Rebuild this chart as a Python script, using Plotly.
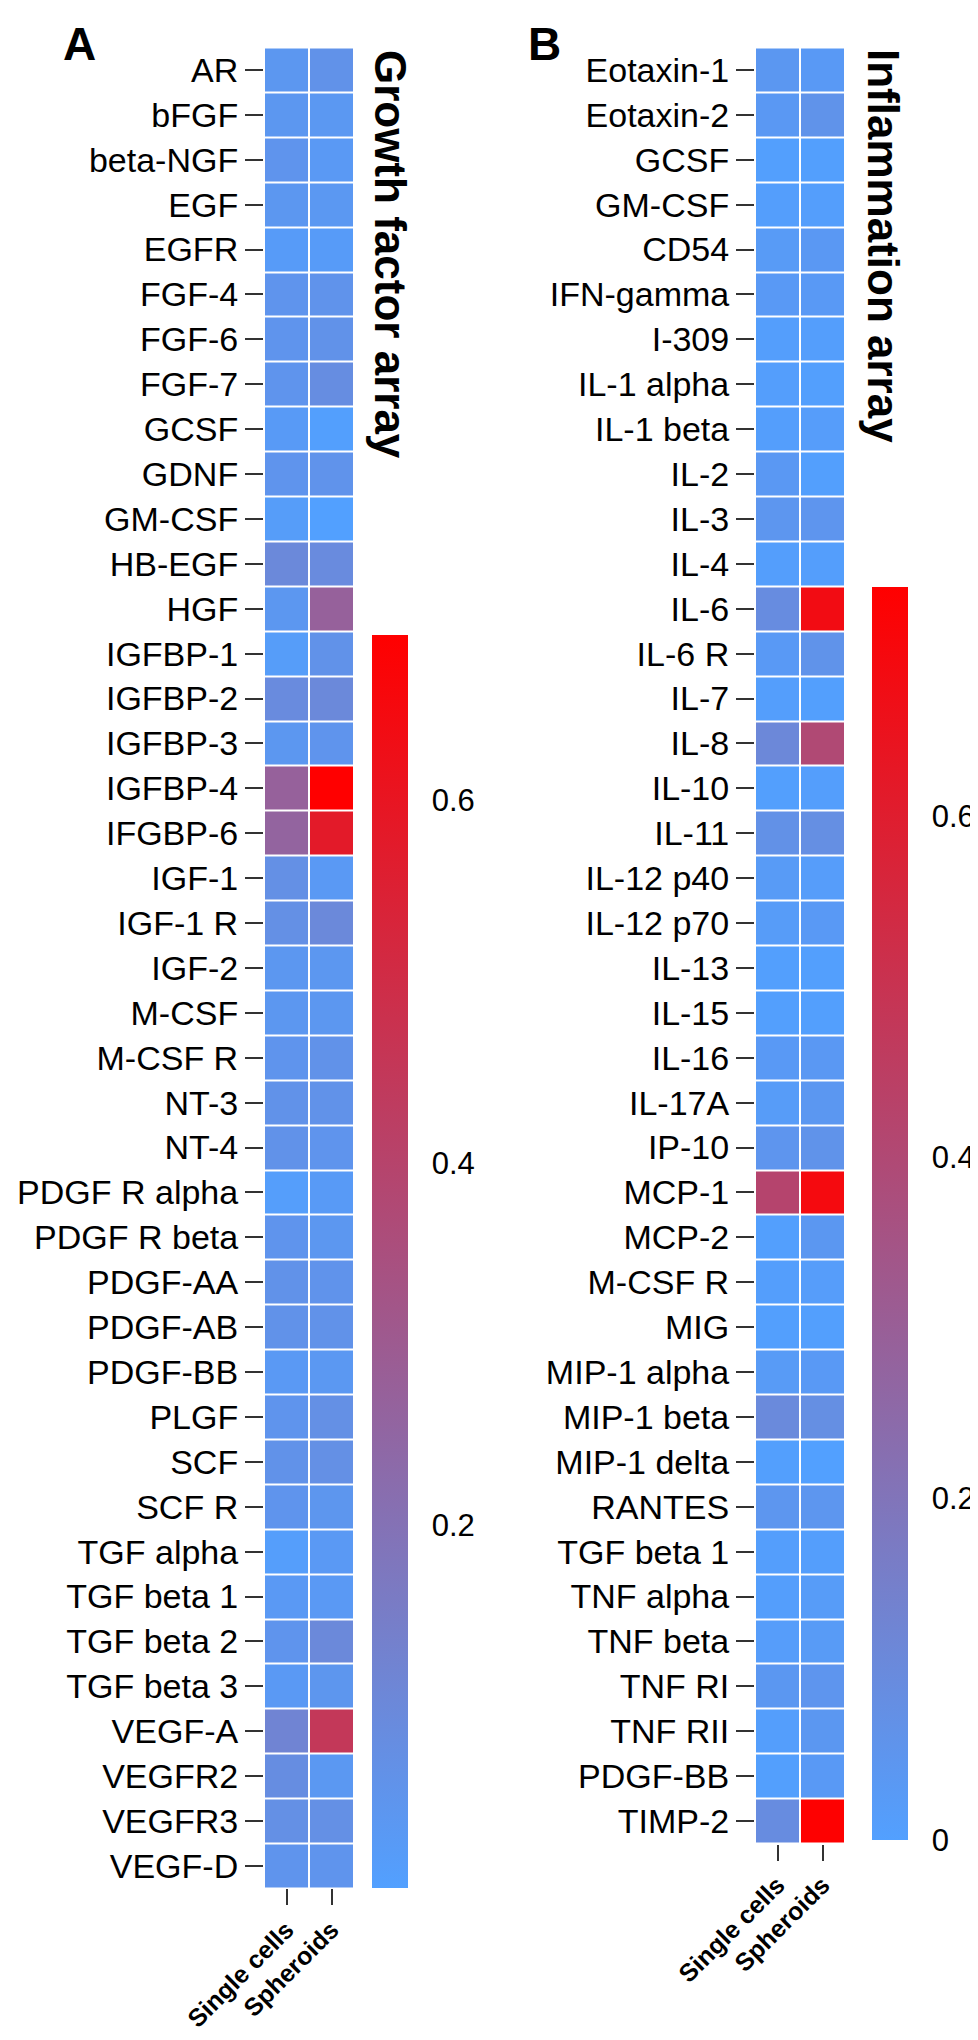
import plotly.graph_objects as go

# ---------------- data ----------------
conditions = ["Single cells", "Spheroids"]

growth_factors = ["AR", "bFGF", "beta-NGF", "EGF", "EGFR", "FGF-4", "FGF-6", "FGF-7", "GCSF", "GDNF",
                  "GM-CSF", "HB-EGF", "HGF", "IGFBP-1", "IGFBP-2", "IGFBP-3", "IGFBP-4", "IFGBP-6", "IGF-1",
                  "IGF-1 R", "IGF-2", "M-CSF", "M-CSF R", "NT-3", "NT-4", "PDGF R alpha", "PDGF R beta",
                  "PDGF-AA", "PDGF-AB", "PDGF-BB", "PLGF", "SCF", "SCF R", "TGF alpha", "TGF beta 1",
                  "TGF beta 2", "TGF beta 3", "VEGF-A", "VEGFR2", "VEGFR3", "VEGF-D"]
gf_single = [0.04, 0.04, 0.05, 0.04, 0.02, 0.05, 0.05, 0.05, 0.025, 0.05,
             0.015, 0.10, 0.04, 0.015, 0.09, 0.04, 0.27, 0.26, 0.07,
             0.07, 0.04, 0.04, 0.05, 0.06, 0.06, 0.01, 0.05,
             0.06, 0.06, 0.03, 0.05, 0.06, 0.05, 0.01, 0.03,
             0.05, 0.03, 0.12, 0.08, 0.07, 0.05]
gf_spheroid = [0.06, 0.035, 0.03, 0.035, 0.02, 0.055, 0.06, 0.08, 0.005, 0.055,
               0.0, 0.09, 0.27, 0.06, 0.10, 0.05, 0.69, 0.58, 0.03,
               0.10, 0.04, 0.04, 0.06, 0.06, 0.05, 0.025, 0.04,
               0.055, 0.06, 0.035, 0.07, 0.07, 0.045, 0.03, 0.03,
               0.10, 0.045, 0.45, 0.035, 0.07, 0.05]

inflammation = ["Eotaxin-1", "Eotaxin-2", "GCSF", "GM-CSF", "CD54", "IFN-gamma", "I-309", "IL-1 alpha",
                "IL-1 beta", "IL-2", "IL-3", "IL-4", "IL-6", "IL-6 R", "IL-7", "IL-8", "IL-10", "IL-11",
                "IL-12 p40", "IL-12 p70", "IL-13", "IL-15", "IL-16", "IL-17A", "IP-10", "MCP-1", "MCP-2",
                "M-CSF R", "MIG", "MIP-1 alpha", "MIP-1 beta", "MIP-1 delta", "RANTES", "TGF beta 1",
                "TNF alpha", "TNF beta", "TNF RI", "TNF RII", "PDGF-BB", "TIMP-2"]
inf_single = [0.04, 0.035, 0.005, 0.01, 0.025, 0.03, 0.01, 0.01,
              0.01, 0.035, 0.045, 0.01, 0.09, 0.03, 0.01, 0.11, 0.005, 0.07,
              0.025, 0.02, 0.005, 0.005, 0.03, 0.02, 0.05, 0.42, 0.005,
              0.01, 0.005, 0.025, 0.10, 0.005, 0.045, 0.01,
              0.01, 0.015, 0.04, 0.01, 0.005, 0.09]
inf_spheroid = [0.03, 0.06, 0.005, 0.01, 0.035, 0.03, 0.01, 0.005,
                0.015, 0.005, 0.05, 0.01, 0.68, 0.06, 0.005, 0.40, 0.01, 0.08,
                0.015, 0.03, 0.005, 0.005, 0.035, 0.04, 0.06, 0.69, 0.04,
                0.015, 0.005, 0.03, 0.08, 0.0, 0.045, 0.01,
                0.02, 0.025, 0.05, 0.04, 0.03, 0.73]

gf_range = [0.0, 0.691]
inf_range = [0.0, 0.734]
gf_ticks = [0.2, 0.4, 0.6]
inf_ticks = [0, 0.2, 0.4, 0.6]

# ---------------- layout constants (pixels) ----------------
W, H = 978, 2040
FONT = "Arial, 'Liberation Sans', sans-serif"
COLORSCALE = [[0.0, "rgb(82,160,255)"], [1.0, "rgb(255,0,0)"]]

ROW = 44.9
TOP = 39.5


def px_x(x):
    return x / W


def px_y(y):
    return 1 - y / H


a_bottom = TOP + ROW * len(growth_factors)
b_bottom = TOP + ROW * len(inflammation)

fig = go.Figure()

fig.add_trace(go.Heatmap(
    z=[[s, p] for s, p in zip(gf_single, gf_spheroid)],
    x=conditions, y=growth_factors,
    coloraxis="coloraxis", xgap=2, ygap=2,
    xaxis="x", yaxis="y",
))
fig.add_trace(go.Heatmap(
    z=[[s, p] for s, p in zip(inf_single, inf_spheroid)],
    x=conditions, y=inflammation,
    coloraxis="coloraxis2", xgap=2, ygap=2,
    xaxis="x2", yaxis="y2",
))

ytick = dict(family=FONT, size=34, color="black")
xtick = dict(family=FONT, size=25, color="black", weight="bold")

common_y = dict(type="category", autorange="reversed", ticks="outside", ticklen=18, tickwidth=2,
                tickcolor="#333", showgrid=False, zeroline=False, showline=False, tickfont=ytick,
                automargin=False)
common_x = dict(type="category", ticks="outside", ticklen=16, tickwidth=2, tickcolor="#333",
                tickangle=-45, showgrid=False, zeroline=False, showline=False, tickfont=xtick,
                automargin=False)

# colorbar geometry
cbA = dict(x0=364, top=627, bottom=a_bottom)
cbB = dict(x0=864, top=579, bottom=b_bottom - 4)
THICK = 36


def colorbar(cb, ticks):
    return dict(
        x=px_x(cb["x0"]), xanchor="left", xpad=0,
        y=px_y(cb["top"]), yanchor="top", ypad=0,
        len=cb["bottom"] - cb["top"], lenmode="pixels",
        thickness=THICK, thicknessmode="pixels", outlinewidth=0,
        tickvals=ticks, ticktext=[("0" if t == 0 else f"{t:.1f}") for t in ticks],
        ticks="outside", ticklen=18, tickcolor="rgba(255,255,255,0)",
        tickfont=dict(family=FONT, size=31, color="black"),
    )


fig.update_layout(
    template="none",
    width=W, height=H,
    margin=dict(l=0, r=0, t=0, b=0, autoexpand=False),
    paper_bgcolor="white", plot_bgcolor="white",
    showlegend=False,
    xaxis=dict(domain=[px_x(256), px_x(346)], anchor="y", **common_x),
    yaxis=dict(domain=[px_y(a_bottom), px_y(TOP)], anchor="x", **common_y),
    xaxis2=dict(domain=[px_x(747), px_x(837)], anchor="y2", **common_x),
    yaxis2=dict(domain=[px_y(b_bottom), px_y(TOP)], anchor="x2", **common_y),
    coloraxis=dict(colorscale=COLORSCALE, cmin=gf_range[0], cmax=gf_range[1],
                   colorbar=colorbar(cbA, gf_ticks)),
    coloraxis2=dict(colorscale=COLORSCALE, cmin=inf_range[0], cmax=inf_range[1],
                    colorbar=colorbar(cbB, inf_ticks)),
)

# white tick notches on both edges of the colorbars
shapes = []
for cb, ticks, rng in [(cbA, gf_ticks, gf_range), (cbB, inf_ticks, inf_range)]:
    for t in ticks:
        if t <= rng[0]:
            continue
        yp = cb["bottom"] - (t - rng[0]) / (rng[1] - rng[0]) * (cb["bottom"] - cb["top"])
        for xa, xb in [(cb["x0"], cb["x0"] + 9), (cb["x0"] + THICK - 9, cb["x0"] + THICK)]:
            shapes.append(dict(type="line", xref="paper", yref="paper",
                               x0=px_x(xa), x1=px_x(xb), y0=px_y(yp), y1=px_y(yp),
                               line=dict(color="white", width=2)))
fig.update_layout(shapes=shapes)

annotations = [
    dict(text="A", x=px_x(53), y=px_y(8), xanchor="left", yanchor="top",
         font=dict(family=FONT, size=46, color="black", weight="bold")),
    dict(text="B", x=px_x(518), y=px_y(8), xanchor="left", yanchor="top",
         font=dict(family=FONT, size=46, color="black", weight="bold")),
    dict(text="Growth factor array", x=px_x(383), y=px_y(246), xanchor="center", yanchor="middle",
         textangle=90, font=dict(family=FONT, size=44, color="black", weight="bold")),
    dict(text="Inflammation array", x=px_x(876), y=px_y(238), xanchor="center", yanchor="middle",
         textangle=90, font=dict(family=FONT, size=44, color="black", weight="bold")),
]
for a in annotations:
    a.update(xref="paper", yref="paper", showarrow=False)
fig.update_layout(annotations=annotations)

fig.write_html("out.html")
